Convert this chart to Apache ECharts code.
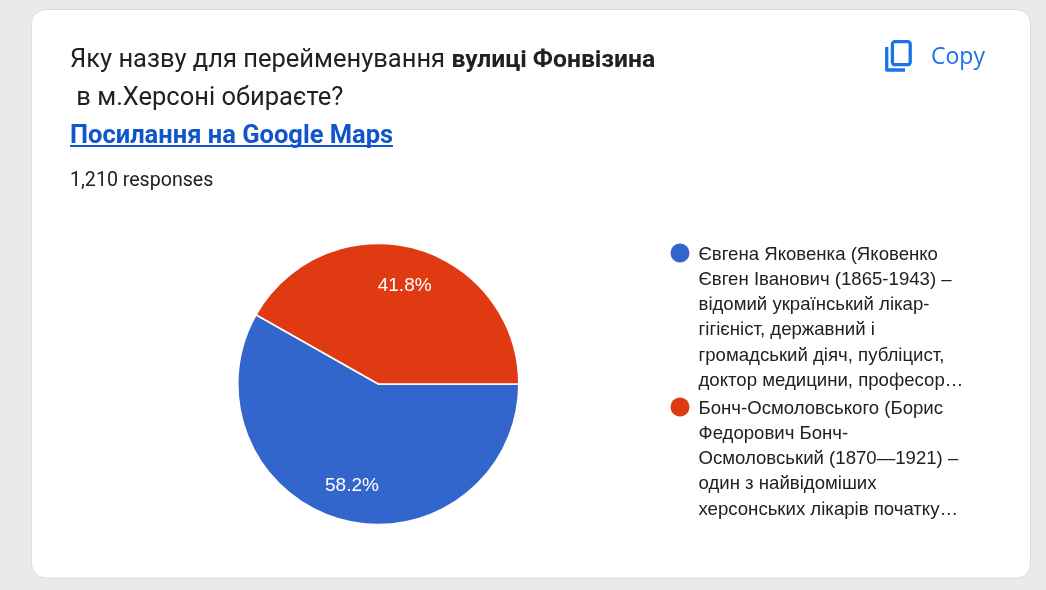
<!DOCTYPE html>
<html>
<head>
<meta charset="utf-8">
<style>html,body{margin:0;padding:0;background:#ebeae9}#chart{width:1046px;height:590px}</style>
<script src="https://cdn.jsdelivr.net/npm/echarts@6/dist/echarts.min.js"></script>
</head>
<body>
<div id="chart"></div>
<script>
// Survey answers and their shares of all responses
const categories = ['Євгена Яковенка', 'Бонч-Осмоловського'];
const shares = [58.2, 41.8];
const colors = ['#3366cc', '#e03a12'];

// Wrapped answer captions, one array per answer
const captionLines = [
  ['Євгена Яковенка (Яковенко', 'Євген Іванович (1865-1943) –', 'відомий український лікар-', 'гігієніст, державний і', 'громадський діяч, публіцист,', 'доктор медицини, професор…'],
  ['Бонч-Осмоловського (Борис', 'Федорович Бонч-', 'Осмоловський (1870—1921) –', 'один з найвідоміших', 'херсонських лікарів початку…']
];

const questionStart = 'Яку назву для перейменування ';
const questionBold = 'вулиці Фонвізина';
const questionEnd = ' в м.Херсоні обираєте?';
const linkText = 'Посилання на Google Maps';
const responsesText = '1,210 responses';
const copyText = 'Copy';

const INK = '#202124';
const ACCENT = '#1a73e8';
const pieData = categories.map((name, i) => ({ name, value: shares[i], itemStyle: { color: colors[i] } }));

const captionTops = [242, 396];
const captionItems = [];
captionLines.forEach((lines, i) => {
  captionItems.push({
    type: 'circle', silent: true,
    shape: { cx: 680, cy: captionTops[i] + 11, r: 9.5 },
    style: { fill: colors[i] }
  });
  captionItems.push({
    type: 'text', silent: true, x: 698.5, y: captionTops[i],
    style: {
      text: lines.join('\n'), fill: INK,
      font: '18.6px "Liberation Sans", Arial, sans-serif',
      lineHeight: 25.2
    }
  });
});

const chart = echarts.init(document.getElementById('chart'), null, { width: 1046, height: 590 });
chart.setOption({
  animation: false,
  backgroundColor: '#ebeae9',
  graphic: { elements: [
    { type: 'rect', silent: true, z: -10,
      shape: { x: 31.5, y: 9.5, width: 999, height: 568.5, r: 14 },
      style: { fill: '#ffffff', stroke: '#dadce0', lineWidth: 1 } },
    { type: 'text', silent: true, x: 70, y: 48,
      style: {
        text: '{n|' + questionStart + '}{b|' + questionBold + '}',
        rich: {
          n: { font: '25.5px Roboto, sans-serif', fill: INK, color: INK },
          b: { font: 'bold 24.7px Roboto, sans-serif', fill: INK, color: INK }
        }
      } },
    { type: 'text', silent: true, x: 70, y: 86,
      style: { text: questionEnd, font: '25.5px Roboto, sans-serif', fill: INK } },
    { type: 'text', silent: true, x: 70, y: 124,
      style: { text: linkText, font: 'bold 25.5px Roboto, sans-serif', fill: '#1155cc' } },
    { type: 'rect', silent: true,
      shape: { x: 70, y: 145, width: 323, height: 2 },
      style: { fill: '#1155cc' } },
    { type: 'text', silent: true, x: 70, y: 171,
      style: { text: responsesText, font: '19.6px Roboto, sans-serif', fill: INK } },
    // Copy icon: front sheet outline and the back sheet's corner
    { type: 'rect', silent: true,
      shape: { x: 892.4, y: 41.7, width: 17.8, height: 23, r: 2.5 },
      style: { fill: 'none', stroke: ACCENT, lineWidth: 3.3 } },
    { type: 'polyline', silent: true,
      shape: { points: [[886.7, 47], [886.7, 70], [905, 70]] },
      style: { fill: 'none', stroke: ACCENT, lineWidth: 3.3, lineJoin: 'round' } },
    { type: 'text', silent: true, x: 931, y: 46,
      style: { text: copyText, font: '23px "Open Sans", sans-serif', fill: ACCENT } }
  ].concat(captionItems) },
  series: [
    {
      type: 'pie', silent: true, startAngle: 0, clockwise: true,
      center: [378.3, 384], radius: [0, 140.5],
      label: { show: false }, labelLine: { show: false },
      itemStyle: { borderColor: '#ffffff', borderWidth: 1.5 },
      data: pieData
    },
    {
      // Transparent ring that carries the percentages further out than the slice centre
      type: 'pie', silent: true, startAngle: 0, clockwise: true,
      center: [378.3, 384], radius: [60.5, 140.5],
      itemStyle: { color: 'transparent', borderWidth: 0 },
      label: {
        show: true, position: 'inside', formatter: '{c}%', offset: [0, 1.5],
        color: '#ffffff', fontSize: 19, fontFamily: '"Liberation Sans", Arial, sans-serif'
      },
      labelLine: { show: false },
      data: categories.map((name, i) => ({ name, value: shares[i], itemStyle: { color: 'transparent' } }))
    }
  ]
});
</script>
</body>
</html>
